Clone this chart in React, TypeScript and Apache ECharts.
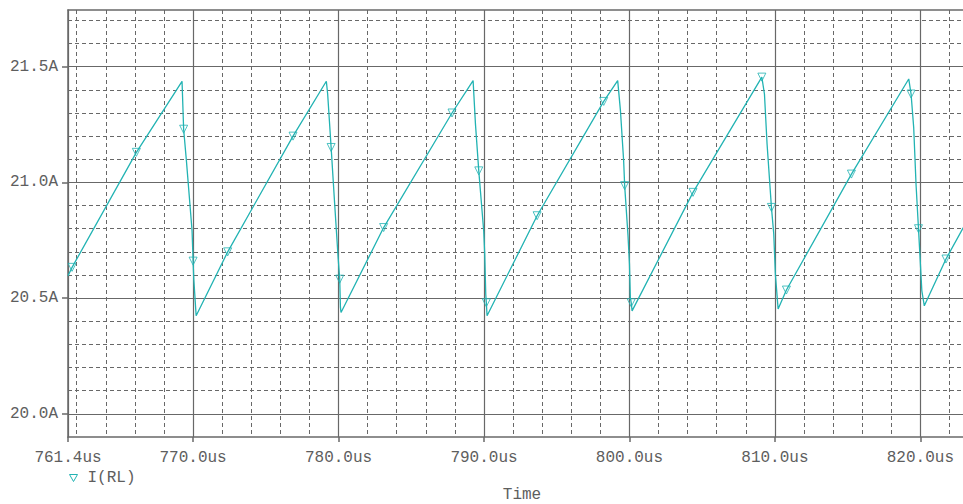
import { useEffect, useRef } from "react";
import * as echarts from "echarts";

// I(RL) inductor current trace: time (us) and current (A)
const traceTime = [
  761.4, 761.68, 766.1, 769.24, 769.35, 769.54, 769.93, 770.0, 770.05, 770.21,
  772.38, 776.87, 779.16, 779.25, 779.49, 779.73, 779.97, 780.08, 780.13, 780.17,
  783.1, 787.8, 789.25, 789.41, 789.64, 789.98, 790.05, 790.12, 790.16, 790.21,
  793.65, 798.23, 799.19, 799.38, 799.6, 799.67, 799.9, 800.0, 800.06, 800.12, 800.18,
  804.37, 809.1, 809.28, 809.46, 809.76, 809.92, 810.03, 810.22,
  810.79, 815.26, 819.2, 819.36, 819.54, 819.7, 819.87, 819.99, 820.1, 820.27,
  821.76, 822.95,
];
const traceCurrent = [
  20.597, 20.633, 21.13, 21.437, 21.23, 21.094, 20.79, 20.66, 20.58, 20.424,
  20.7, 21.2, 21.437, 21.383, 21.151, 20.91, 20.676, 20.582, 20.46, 20.438,
  20.805, 21.3, 21.44, 21.254, 21.05, 20.79, 20.69, 20.517, 20.48, 20.424,
  20.856, 21.35, 21.44, 21.31, 21.094, 20.986, 20.77, 20.647, 20.503, 20.48, 20.445,
  20.957, 21.455, 21.382, 21.166, 20.892, 20.777, 20.604, 20.453,
  20.535, 21.036, 21.447, 21.382, 21.238, 20.993, 20.8, 20.661, 20.532, 20.467,
  20.669, 20.805,
];
// sample times that carry the ▽ trace marker
const markerTime = [
  761.68, 766.1, 769.35, 770.0, 772.38, 776.87, 779.49, 780.08, 783.1, 787.8,
  789.64, 790.16, 793.65, 798.23, 799.67, 800.12, 804.37, 809.1, 809.76, 810.79,
  815.26, 819.36, 819.87, 821.76,
];

const timeRange = [761.4, 822.93];
const currentRange = [19.9, 21.745];
const xMajorTicks = [761.4, 770, 780, 790, 800, 810, 820];
const xMinorTicks = [
  762, 764, 766, 768, 772, 774, 776, 778, 782, 784, 786, 788, 792, 794, 796, 798,
  802, 804, 806, 808, 812, 814, 816, 818, 822,
];
const yMajorTicks = [20.0, 20.5, 21.0, 21.5];
const yMinorTicks = [
  20.1, 20.2, 20.3, 20.4, 20.6, 20.7, 20.8, 20.9, 21.1, 21.2, 21.3, 21.4, 21.6, 21.7,
];

const TRACE = "#22b3b3";
const GRID = "#686868";
const TEXT = "#5e5e5e";
const FONT = '"Liberation Mono", "DejaVu Sans Mono", monospace';

export default function App() {
  const ref = useRef<HTMLDivElement>(null);

  useEffect(() => {
    if (!ref.current) return;
    const chart = echarts.init(ref.current, undefined, { renderer: "svg" });

    const trace = traceTime.map((t, i) => [t, traceCurrent[i]]);
    const markers = markerTime.map((t) => [t, traceCurrent[traceTime.indexOf(t)]]);

    const hiddenAxisParts = {
      axisLine: { show: false },
      axisLabel: { show: false },
    };

    chart.setOption({
      animation: false,
      backgroundColor: "#ffffff",
      grid: { left: 68, right: 0, top: 10, bottom: 67, outerBoundsMode: "none" },
      legend: {
        left: 64,
        top: 465,
        itemWidth: 8,
        itemHeight: 7,
        icon: "path://M0,0L8,0L4,7Z",
        itemStyle: { color: "transparent", borderColor: TRACE, borderWidth: 1 },
        textStyle: { fontFamily: FONT, fontSize: 16, color: TEXT, padding: [0, 0, 0, 5] },
        data: ["I(RL)"],
      },
      xAxis: [
        {
          type: "value",
          position: "bottom",
          min: timeRange[0],
          max: timeRange[1],
          z: 1,
          axisLine: { onZero: false, lineStyle: { color: GRID, width: 1.5 } },
          axisTick: {
            customValues: xMajorTicks,
            inside: false,
            length: 5,
            lineStyle: { color: GRID, width: 1.5 },
          },
          axisLabel: {
            customValues: xMajorTicks,
            formatter: (v: number) => v.toFixed(1) + "us",
            fontFamily: FONT,
            fontSize: 16,
            color: TEXT,
            margin: 13,
          },
          splitLine: { show: true, lineStyle: { color: GRID, width: 1.2 } },
          name: "Time",
          nameLocation: "middle",
          nameGap: 50,
          nameTextStyle: { fontFamily: FONT, fontSize: 16, color: TEXT, padding: [0, 0, 0, 13] },
        },
        {
          type: "value",
          position: "bottom",
          min: timeRange[0],
          max: timeRange[1],
          z: 0,
          ...hiddenAxisParts,
          axisTick: { show: false, customValues: xMinorTicks },
          splitLine: { show: true, lineStyle: { color: GRID, width: 1, type: [4, 3] } },
        },
        {
          type: "value",
          position: "top",
          min: timeRange[0],
          max: timeRange[1],
          z: 1,
          axisLine: { show: true, onZero: false, lineStyle: { color: GRID, width: 1.5 } },
          axisTick: { show: false },
          axisLabel: { show: false },
          splitLine: { show: false },
        },
      ],
      yAxis: [
        {
          type: "value",
          position: "left",
          min: currentRange[0],
          max: currentRange[1],
          z: 1,
          axisLine: { show: true, onZero: false, lineStyle: { color: GRID, width: 1.5 } },
          axisTick: {
            show: true,
            customValues: yMajorTicks,
            inside: false,
            length: 6,
            lineStyle: { color: GRID, width: 1.5 },
          },
          axisLabel: {
            customValues: yMajorTicks,
            formatter: (v: number) => v.toFixed(1) + "A",
            fontFamily: FONT,
            fontSize: 16,
            color: TEXT,
            margin: 10,
          },
          splitLine: { show: true, lineStyle: { color: GRID, width: 1.2 } },
        },
        {
          type: "value",
          position: "left",
          min: currentRange[0],
          max: currentRange[1],
          z: 0,
          ...hiddenAxisParts,
          axisTick: { show: false, customValues: yMinorTicks },
          splitLine: { show: true, lineStyle: { color: GRID, width: 1, type: [4, 3] } },
        },
      ],
      series: [
        {
          name: "I(RL)",
          type: "line",
          data: trace,
          showSymbol: false,
          symbol: "none",
          z: 3,
          lineStyle: { color: TRACE, width: 1.3 },
          itemStyle: { color: TRACE },
        },
        {
          name: "I(RL)",
          type: "scatter",
          data: markers,
          symbol: "triangle",
          symbolRotate: 180,
          symbolSize: [8, 8],
          z: 4,
          itemStyle: { color: "transparent", borderColor: TRACE, borderWidth: 1 },
        },
      ],
    });

    return () => chart.dispose();
  }, []);

  return (
    <div
      ref={ref}
      style={{ position: "fixed", left: 0, top: 0, width: 963, height: 504, background: "#fff" }}
    />
  );
}
